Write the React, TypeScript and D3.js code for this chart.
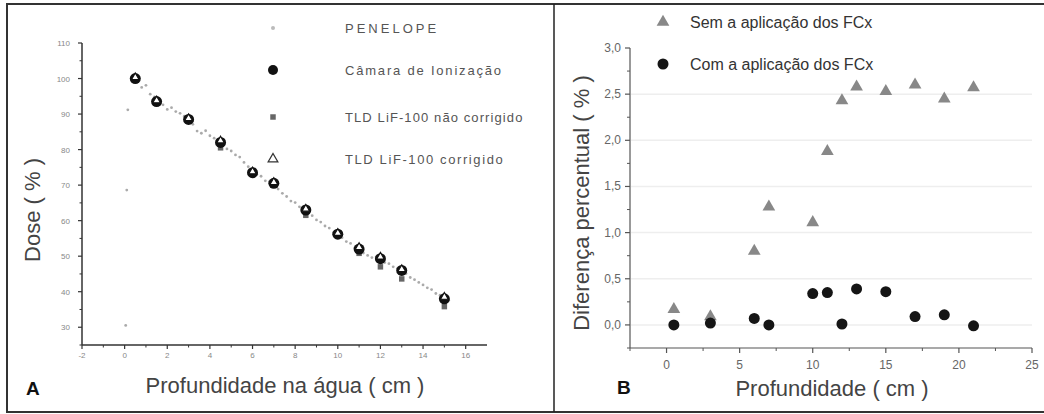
import React from 'react';
import * as d3 from 'd3';

// Panel A: dose vs depth (cm)
const depthsA = [0.5, 1.5, 3, 4.5, 6, 7, 8.5, 10, 11, 12, 13, 15];
const camara = [100, 93.5, 88.5, 82, 73.5, 70.5, 63, 56.2, 52, 49.3, 46, 38];
const tldNaoCorrigido = [99.8, 93.4, 88.3, 80.5, 73.2, 70, 61.5, 55.8, 50.8, 47, 43.6, 35.8];
const tldCorrigido = [100.3, 93.8, 88.8, 82.5, 73.8, 70.8, 63.3, 56.5, 52.5, 49.8, 46.3, 38.5];

const penelopeX = [
  0.05, 0.1, 0.15,
  0.6, 0.8, 1.0, 1.2, 1.4, 1.6, 1.8, 2.0, 2.2, 2.4, 2.6, 2.8, 3.0, 3.2, 3.4, 3.6, 3.8,
  4.0, 4.2, 4.4, 4.6, 4.8, 5.0, 5.2, 5.4, 5.6, 5.8, 6.0, 6.2, 6.4, 6.6, 6.8, 7.0, 7.2,
  7.4, 7.6, 7.8, 8.0, 8.2, 8.4, 8.6, 8.8, 9.0, 9.2, 9.4, 9.6, 9.8, 10.0, 10.2, 10.4,
  10.6, 10.8, 11.0, 11.2, 11.4, 11.6, 11.8, 12.0, 12.2, 12.4, 12.6, 12.8, 13.0, 13.2,
  13.4, 13.6, 13.8, 14.0, 14.2, 14.4, 14.6, 14.8, 15.0, 15.2,
];
const penelopeY = [
  30.5, 68.6, 91.2,
  99.2, 97.5, 98.1, 95.6, 94.8, 93.0, 92.6, 91.3, 91.8, 90.7, 90.2, 89.4, 88.0, 87.1, 85.2, 84.6, 85.3,
  83.9, 83.2, 82.6, 81.4, 80.2, 79.6, 78.5, 77.9, 76.4, 75.2, 74.1, 73.0, 72.5, 71.2, 71.0, 69.8, 68.9,
  67.7, 66.8, 65.5, 65.1, 63.9, 63.2, 62.1, 61.4, 60.2, 59.6, 58.5, 57.9, 56.6, 56.0, 55.2, 54.1,
  53.6, 52.3, 51.8, 50.9, 50.2, 49.6, 49.8, 49.0, 48.2, 47.9, 47.0, 46.5, 45.8, 45.1,
  44.0, 43.4, 42.6, 41.9, 41.1, 40.6, 39.5, 39.0, 38.4, 37.6,
];

const xTicksA = [-2, 0, 2, 4, 6, 8, 10, 12, 14, 16];
const yTicksA = [30, 40, 50, 60, 70, 80, 90, 100, 110];

// Panel B: percent difference vs depth
const depthsB = [0.5, 3, 6, 7, 10, 11, 12, 13, 15, 17, 19, 21];
const semFCx = [0.17, 0.09, 0.8, 1.28, 1.11, 1.88, 2.43, 2.58, 2.53, 2.6, 2.45, 2.57];
const comFCx = [0.0, 0.02, 0.07, 0.0, 0.34, 0.35, 0.01, 0.39, 0.36, 0.09, 0.11, -0.01];

const xTicksB = [0, 5, 10, 15, 20, 25];
const yTicksB = [0, 0.5, 1.0, 1.5, 2.0, 2.5, 3.0];

const FONT = 'Liberation Sans, Arial, sans-serif';

export default function App() {
  // scales A
  const xA = d3.scaleLinear().domain([-2, 17]).range([82, 487]);
  const yA = d3.scaleLinear().domain([25, 110]).range([345, 43]);
  // scales B
  const xB = d3.scaleLinear().domain([-2.5, 25]).range([630, 1032]);
  const yB = d3.scaleLinear().domain([-0.25, 3.0]).range([348, 48]);

  const tri = (s: number) => d3.symbol().type(d3.symbolTriangle).size(s)()!;
  const sq = d3.symbol().type(d3.symbolSquare).size(30)()!;
  const fmtB = (v: number) => d3.format('.1f')(v).replace('.', ',');

  const minorXA = d3.range(-1, 17, 2);
  const minorYA = d3.range(25, 110, 10);
  const minorXB = d3.range(-2.5, 25, 5);
  const minorYB = d3.range(-0.25, 3.0, 0.5);

  return (
    <svg width={1044} height={414} style={{ position: 'absolute', left: 0, top: 0, background: '#fff' }}
      fontFamily={FONT}>
      {/* frame */}
      <rect x={7} y={4} width={1045} height={408} fill="none" stroke="#333" strokeWidth={2} />
      <line x1={554} x2={554} y1={4} y2={412} stroke="#222" strokeWidth={1.5} />

      {/* ---------- Panel A ---------- */}
      <g>
        <line x1={xA(-2)} x2={xA(17)} y1={yA(25)} y2={yA(25)} stroke="#333" strokeWidth={1.5} />
        <line x1={xA(-2)} x2={xA(-2)} y1={yA(25)} y2={yA(110)} stroke="#333" strokeWidth={1.5} />
        {xTicksA.map(t => (
          <g key={'xa' + t}>
            <line x1={xA(t)} x2={xA(t)} y1={yA(25)} y2={yA(25) + 4} stroke="#333" strokeWidth={1.2} />
            <text x={xA(t)} y={yA(25) + 13} textAnchor="middle" fontSize={8} fill="#888">{t}</text>
          </g>
        ))}
        {minorXA.map(t => (
          <line key={'mxa' + t} x1={xA(t)} x2={xA(t)} y1={yA(25)} y2={yA(25) + 2.5} stroke="#333" strokeWidth={1} />
        ))}
        {yTicksA.map(t => (
          <g key={'ya' + t}>
            <line x1={xA(-2) - 4} x2={xA(-2)} y1={yA(t)} y2={yA(t)} stroke="#333" strokeWidth={1.2} />
            <text x={xA(-2) - 12} y={yA(t) + 3} textAnchor="end" fontSize={8} fill="#888">{t}</text>
          </g>
        ))}
        {minorYA.map(t => (
          <line key={'mya' + t} x1={xA(-2) - 2.5} x2={xA(-2)} y1={yA(t)} y2={yA(t)} stroke="#333" strokeWidth={1} />
        ))}

        {/* PENELOPE */}
        {penelopeX.map((x, i) => (
          <circle key={'p' + i} cx={xA(x)} cy={yA(penelopeY[i])} r={1.4} fill="#aaa" />
        ))}
        {/* TLD nao corrigido */}
        {depthsA.map((x, i) => (
          <path key={'n' + i} d={sq} transform={`translate(${xA(x)},${yA(tldNaoCorrigido[i])})`} fill="#666" />
        ))}
        {/* camara */}
        {depthsA.map((x, i) => (
          <circle key={'c' + i} cx={xA(x)} cy={yA(camara[i])} r={5.5} fill="#111" />
        ))}
        {/* TLD corrigido */}
        {depthsA.map((x, i) => (
          <path key={'t' + i} d={tri(26)} transform={`translate(${xA(x)},${yA(tldCorrigido[i])})`}
            fill="#fff" stroke="#111" strokeWidth={1.2} />
        ))}

        {/* legend A */}
        <circle cx={273} cy={28} r={2} fill="#bbb" />
        <text x={345} y={33} fontSize={13} fill="#555" letterSpacing={3}>PENELOPE</text>
        <circle cx={273} cy={70} r={5} fill="#111" />
        <text x={345} y={75} fontSize={13} fill="#555" letterSpacing={1.8}>Câmara de Ionização</text>
        <path d={sq} transform="translate(273,117)" fill="#666" />
        <text x={345} y={122} fontSize={13} fill="#555" letterSpacing={1.1}>TLD LiF-100 não corrigido</text>
        <path d={tri(40)} transform="translate(273,159)" fill="#fff" stroke="#333" strokeWidth={1.3} />
        <text x={345} y={164} fontSize={13} fill="#555" letterSpacing={1.6}>TLD LiF-100 corrigido</text>

        <text transform="translate(40,210) rotate(-90)" textAnchor="middle" fontSize={22} fill="#444">Dose ( % )</text>
        <text x={285} y={393} textAnchor="middle" fontSize={22} fill="#444">Profundidade na água ( cm )</text>
        <text x={26} y={395} fontSize={19} fontWeight="bold" fill="#111">A</text>
      </g>

      {/* ---------- Panel B ---------- */}
      <g>
        {yTicksB.slice(0, 6).map(t => (
          <line key={'gb' + t} x1={xB(-2.5) + 1} x2={xB(25)} y1={yB(t)} y2={yB(t)} stroke="#eee" strokeWidth={1.5} />
        ))}
        <line x1={xB(-2.5)} x2={xB(25)} y1={yB(-0.25)} y2={yB(-0.25)} stroke="#555" strokeWidth={1.2} />
        <line x1={xB(-2.5)} x2={xB(-2.5)} y1={yB(-0.25)} y2={yB(3.0)} stroke="#555" strokeWidth={1.2} />
        {xTicksB.map(t => (
          <g key={'xb' + t}>
            <line x1={xB(t)} x2={xB(t)} y1={yB(-0.25)} y2={yB(-0.25) + 5} stroke="#555" strokeWidth={1.2} />
            <text x={xB(t)} y={yB(-0.25) + 21} textAnchor="middle" fontSize={12} fill="#666">{t}</text>
          </g>
        ))}
        {minorXB.map(t => (
          <line key={'mxb' + t} x1={xB(t)} x2={xB(t)} y1={yB(-0.25)} y2={yB(-0.25) + 3} stroke="#555" strokeWidth={1} />
        ))}
        {yTicksB.map(t => (
          <g key={'yb' + t}>
            <line x1={xB(-2.5) - 5} x2={xB(-2.5)} y1={yB(t)} y2={yB(t)} stroke="#555" strokeWidth={1.2} />
            <text x={xB(-2.5) - 9} y={yB(t) + 4} textAnchor="end" fontSize={12} fill="#666">{fmtB(t)}</text>
          </g>
        ))}
        {minorYB.map(t => (
          <line key={'myb' + t} x1={xB(-2.5) - 3} x2={xB(-2.5)} y1={yB(t)} y2={yB(t)} stroke="#555" strokeWidth={1} />
        ))}

        {depthsB.map((x, i) => (
          <path key={'s' + i} d={tri(70)} transform={`translate(${xB(x)},${yB(semFCx[i])})`} fill="#888" />
        ))}
        {depthsB.map((x, i) => (
          <circle key={'k' + i} cx={xB(x)} cy={yB(comFCx[i])} r={5.5} fill="#151515" />
        ))}

        {/* legend B */}
        <path d={tri(70)} transform="translate(663,22)" fill="#888" />
        <text x={690} y={28} fontSize={16} fill="#333">Sem a aplicação dos FCx</text>
        <circle cx={663} cy={64} r={5.5} fill="#151515" />
        <text x={690} y={70} fontSize={16} fill="#333">Com a aplicação dos FCx</text>

        <text transform="translate(589,203) rotate(-90)" textAnchor="middle" fontSize={22} fill="#444">Diferença percentual ( % )</text>
        <text x={832} y={396} textAnchor="middle" fontSize={22} fill="#444">Profundidade ( cm )</text>
        <text x={617} y={394} fontSize={19} fontWeight="bold" fill="#111">B</text>
      </g>
    </svg>
  );
}
